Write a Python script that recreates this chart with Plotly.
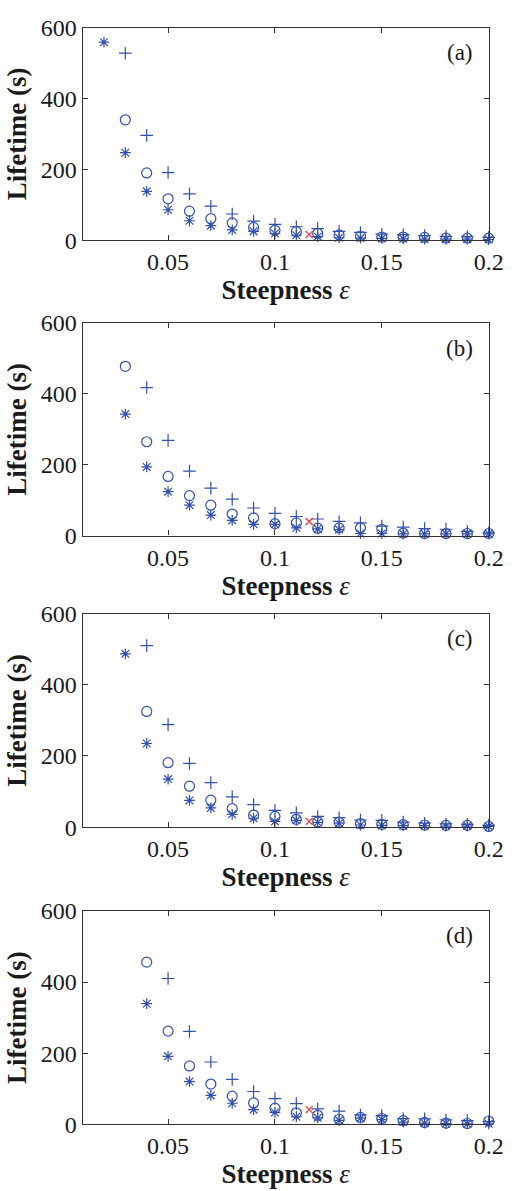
import plotly.graph_objects as go

# ---------------- data ----------------
eps_all = [0.02, 0.03, 0.04, 0.05, 0.06, 0.07, 0.08, 0.09, 0.10, 0.11,
           0.12, 0.13, 0.14, 0.15, 0.16, 0.17, 0.18, 0.19, 0.20]

# panel (a)
star_a_x = eps_all[0:]
star_a = [559, 247, 138, 86, 55, 41, 29, 25, 19, 14, 10, 7, 6, 5, 4, 3, 3, 3, 2]
circ_a_x = eps_all[1:]
circ_a = [340, 190, 117, 82, 61, 49, 36, 28, 24, 19, 15, 12, 9, 9, 8, 6, 6, 6]
plus_a_x = eps_all[1:]
plus_a = [528, 296, 191, 131, 96, 74, 54, 45, 38, 33, 25, 22, 17, 16, 13, 11, 10, 8]

# panel (b)
star_b_x = eps_all[1:]
star_b = [343, 194, 124, 86, 58, 43, 32, 32, 22, 19, 17, 6, 6, 5, 5, 5, 5, 5]
circ_b_x = eps_all[1:]
circ_b = [478, 265, 167, 113, 86, 61, 50, 34, 36, 21, 22, 22, 18, 7, 6, 6, 6, 6]
plus_b_x = eps_all[2:]
plus_b = [418, 269, 182, 134, 103, 78, 63, 54, 47, 40, 36, 27, 24, 20, 18, 12, 8]

# panel (c)
star_c_x = eps_all[1:]
star_c = [487, 235, 135, 75, 54, 36, 25, 16, 19, 13, 11, 6, 5, 4, 4, 3, 3, 2]
circ_c_x = eps_all[2:]
circ_c = [325, 181, 115, 76, 52, 34, 30, 22, 15, 14, 10, 8, 7, 6, 5, 5, 2]
plus_c_x = eps_all[2:]
plus_c = [510, 288, 179, 125, 85, 63, 47, 40, 30, 27, 20, 19, 14, 11, 9, 8, 5]

# panel (d)
star_d_x = eps_all[2:]
star_d = [339, 191, 120, 81, 59, 41, 33, 21, 18, 11, 17, 13, 6, 3, 2, 1, 1]
circ_d_x = eps_all[2:]
circ_d = [456, 262, 164, 113, 79, 60, 45, 32, 25, 14, 19, 16, 10, 5, 3, 2, 9]
plus_d_x = eps_all[3:]
plus_d = [410, 261, 175, 126, 92, 72, 58, 43, 37, 26, 24, 16, 15, 12, 10, 7]

# red cross marker
cross_x = 0.116
cross_y = [16, 40, 16, 41]

panel_labels = ["(a)", "(b)", "(c)", "(d)"]
x_ticks = [0.05, 0.1, 0.15, 0.2]
x_tick_text = ["0.05", "0.1", "0.15", "0.2"]
y_ticks = [0, 200, 400, 600]

panels = [
    (star_a_x, star_a, circ_a_x, circ_a, plus_a_x, plus_a),
    (star_b_x, star_b, circ_b_x, circ_b, plus_b_x, plus_b),
    (star_c_x, star_c, circ_c_x, circ_c, plus_c_x, plus_c),
    (star_d_x, star_d, circ_d_x, circ_d, plus_d_x, plus_d),
]

# ---------------- layout geometry ----------------
W, H = 528, 1191
x_dom = [85 / W, 503 / W]
tops = [15, 317, 614, 918]
bots = [232.3, 534.3, 832.3, 1136]

BLUE = "#3350ad"
RED = "#ee3333"
FRAME = "#333333"
TXT = "#1a1a1a"
FONT = "Times New Roman"

fig = go.Figure()
axes_layout = {}

for i, (sx, sy, cx, cy, px, py) in enumerate(panels):
    n = "" if i == 0 else str(i + 1)
    xa, ya = "x" + n, "y" + n
    fig.add_trace(go.Scatter(x=sx, y=sy, mode="markers", xaxis=xa, yaxis=ya,
                             marker=dict(symbol="asterisk-open", size=9, color=BLUE,
                                         line=dict(color=BLUE, width=1.2)),
                             cliponaxis=False, showlegend=False))
    fig.add_trace(go.Scatter(x=cx, y=cy, mode="markers", xaxis=xa, yaxis=ya,
                             marker=dict(symbol="circle-open", size=10, color=BLUE,
                                         line=dict(color=BLUE, width=1.2)),
                             cliponaxis=False, showlegend=False))
    fig.add_trace(go.Scatter(x=px, y=py, mode="markers", xaxis=xa, yaxis=ya,
                             marker=dict(symbol="cross-thin-open", size=9, color=BLUE,
                                         line=dict(color=BLUE, width=1.2)),
                             cliponaxis=False, showlegend=False))
    fig.add_trace(go.Scatter(x=[cross_x], y=[cross_y[i]], mode="markers", xaxis=xa, yaxis=ya,
                             marker=dict(symbol="x-thin-open", size=7, color=RED,
                                         line=dict(color=RED, width=1.2)),
                             cliponaxis=False, showlegend=False))

    y_dom = [1 - bots[i] / H, 1 - tops[i] / H]
    axes_layout["xaxis" + n] = dict(
        domain=x_dom, range=[0.01, 0.2], anchor=ya,
        tickvals=x_ticks, ticktext=x_tick_text,
        ticks="inside", ticklen=5, tickcolor=FRAME, tickwidth=1,
        showline=True, linecolor=FRAME, linewidth=1.3, mirror="ticks",
        showgrid=False, zeroline=False,
        tickfont=dict(family=FONT, size=24, color=TXT),
        title=dict(text="<b>Steepness</b> <i>ε</i>", standoff=0,
                   font=dict(family=FONT, size=27, color=TXT)),
    )
    axes_layout["yaxis" + n] = dict(
        domain=y_dom, range=[0, 600], anchor=xa,
        tickvals=y_ticks,
        ticks="inside", ticklen=5, tickcolor=FRAME, tickwidth=1,
        showline=True, linecolor=FRAME, linewidth=1.3, mirror="ticks",
        showgrid=False, zeroline=False,
        tickfont=dict(family=FONT, size=24, color=TXT),
        title=dict(text="<b>Lifetime (s)</b>", standoff=6,
                   font=dict(family=FONT, size=27, color=TXT)),
    )
    fig.add_annotation(text=panel_labels[i], xref=xa + " domain", yref=ya + " domain",
                       x=1, y=1, xanchor="right", yanchor="middle",
                       xshift=-14, yshift=-25, showarrow=False,
                       font=dict(family=FONT, size=23, color=TXT))

fig.update_layout(
    width=W, height=H,
    margin=dict(l=0, r=0, t=0, b=0),
    paper_bgcolor="white", plot_bgcolor="white",
    font=dict(family=FONT),
    **axes_layout,
)

fig.write_html("out.html")
